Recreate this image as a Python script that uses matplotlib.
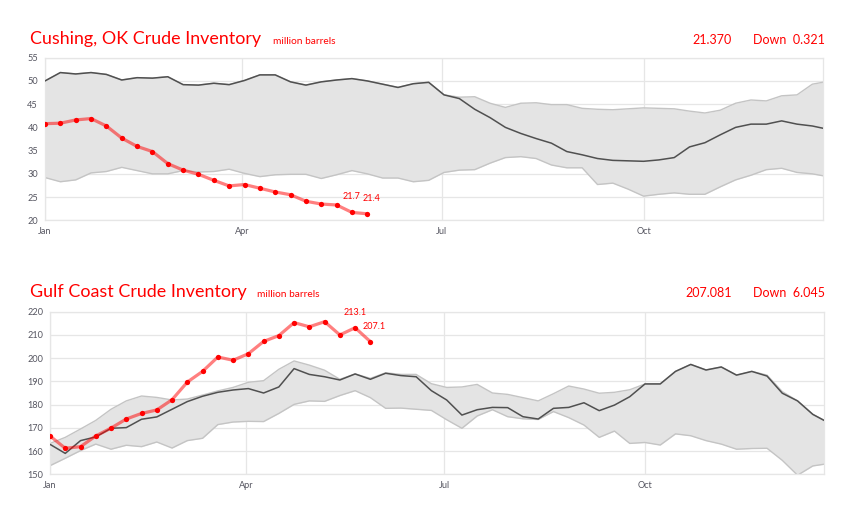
import numpy as np
import matplotlib
matplotlib.use("Agg")
import matplotlib.pyplot as plt

# ---------------- data ----------------
month_ticks = [0, 90, 181, 273]
month_labels = ["Jan", "Apr", "Jul", "Oct"]

cush_red = [40.8, 40.9, 41.6, 41.9, 40.3, 37.7, 35.9, 34.8, 32.2, 30.8, 29.9,
            28.6, 27.4, 27.7, 26.9, 26.1, 25.5, 24.1, 23.5, 23.3, 21.7, 21.4]
cush_dark = [50.0, 51.8, 51.5, 51.8, 51.4, 50.2, 50.7, 50.6, 50.9, 49.2, 49.1,
             49.5, 49.2, 50.1, 51.3, 51.3, 49.8, 49.1, 49.8, 50.2, 50.5, 50.0,
             49.3, 48.6, 49.4, 49.7,
             47.0, 46.2, 43.9, 42.1, 40.0, 38.7, 37.6, 36.6, 34.8, 34.1, 33.3,
             32.9, 32.8, 32.7, 33.0, 33.5, 35.8, 36.7, 38.4, 40.0, 40.7, 40.7,
             41.4, 40.7, 40.3, 39.6]
cush_upper = [50.0, 51.8, 51.5, 51.8, 51.4, 50.2, 50.7, 50.6, 50.9, 49.2, 49.1,
              49.5, 49.2, 50.1, 51.3, 51.3, 49.8, 49.1, 49.8, 50.2, 50.5, 50.0,
              49.3, 48.6, 49.4, 49.7,
              47.0, 46.5, 46.6, 45.2, 44.3, 45.2, 45.3, 44.9, 44.9, 44.1, 43.9,
              43.8, 44.0, 44.2, 44.1, 44.0, 43.5, 43.1, 43.7, 45.2, 45.9, 45.7,
              46.8, 47.0, 49.3, 49.9]
cush_lower = [29.2, 28.3, 28.7, 30.2, 30.5, 31.4, 30.7, 30.0, 30.0, 30.7, 30.4,
              30.5, 31.0, 30.1, 29.4, 29.8, 29.9, 29.9, 29.0, 29.8, 30.7, 30.0,
              29.1, 29.1, 28.3, 28.6,
              30.3, 30.8, 30.9, 32.3, 33.5, 33.7, 33.3, 31.9, 31.3, 31.3, 27.7,
              28.0, 26.7, 25.2, 25.6, 25.9, 25.6, 25.6, 27.2, 28.7, 29.7, 30.9,
              31.2, 30.3, 30.0, 29.4]

gulf_red = [166.5, 161.2, 161.9, 166.5, 169.9, 173.8, 176.2, 177.7, 182.1, 189.7,
            194.3, 200.5, 199.1, 201.9, 207.2, 209.7, 215.3, 213.5, 215.7, 210.0,
            213.1, 207.1]
gulf_dark = [162.9, 159.0, 164.5, 166.1, 169.8, 170.1, 173.7, 174.7, 178.0, 181.3,
             183.6, 185.3, 186.3, 186.9, 185.0, 187.6, 195.5, 193.0, 192.0, 190.6,
             193.2, 190.9, 193.5, 192.5, 192.0, 186.0,
             182.0, 175.5, 177.8, 178.8, 178.7, 174.8, 173.8, 178.4, 178.8, 180.8,
             177.4, 179.8, 183.4, 188.9, 188.9, 194.3, 197.3, 194.9, 196.2, 192.7,
             194.3, 192.3, 184.9, 181.6, 175.8, 172.3]
gulf_upper = [163.3, 165.9, 169.5, 173.2, 178.0, 181.6, 183.7, 183.1, 182.0, 182.4,
              184.1, 185.9, 187.4, 189.6, 190.3, 195.2, 198.8, 197.0, 194.8, 190.9,
              193.2, 191.3, 193.7, 193.0, 193.0, 189.0,
              187.4, 187.6, 188.7, 185.0, 184.4, 183.0, 181.6, 184.7, 188.0, 186.7,
              184.9, 185.3, 186.4, 188.9, 188.9, 194.3, 197.3, 194.9, 196.2, 192.7,
              194.3, 192.7, 185.6, 181.6, 175.8, 172.3]
gulf_lower = [153.7, 156.9, 160.2, 163.0, 160.8, 162.5, 161.9, 163.9, 161.3, 164.5,
              165.5, 171.4, 172.5, 172.8, 172.7, 176.2, 180.1, 181.6, 181.4, 183.9,
              186.0, 183.0, 178.4, 178.5, 178.0, 177.5,
              173.5, 169.8, 175.1, 177.8, 174.8, 173.9, 173.6, 177.0, 174.4, 171.2,
              165.9, 168.6, 163.3, 163.7, 162.6, 167.4, 166.6, 164.5, 163.0, 160.8,
              161.1, 161.2, 156.0, 149.6, 153.6, 154.6]

cush_title = "Cushing, OK Crude Inventory"
gulf_title = "Gulf Coast Crude Inventory"
unit = "million barrels"
cush_last, cush_change = "21.370", "Down  0.321"
gulf_last, gulf_change = "207.081", "Down  6.045"
cush_yticks = [20, 25, 30, 35, 40, 45, 50, 55]
gulf_yticks = [150, 160, 170, 180, 190, 200, 210, 220]

# ---------------- drawing ----------------
W, H = 856, 531
fig = plt.figure(figsize=(W / 100, H / 100), dpi=100)
plt.rcParams['font.family'] = ['Lato', 'DejaVu Sans']

RED = '#ff0000'
TICK = '#555560'
GRID = '#e6e6e6'


def panel(rect, red, dark, upper, lower, yticks, title, last, change, tx_y, unit_x):
    ax = fig.add_axes(rect)
    wk = np.arange(len(dark)) * 7
    rw = np.arange(len(red)) * 7
    ax.fill_between(wk, lower, upper, color='#e4e4e4', lw=0, zorder=1)
    ax.plot(wk, upper, color='#c4c4c4', lw=1.0, zorder=2)
    ax.plot(wk, lower, color='#c4c4c4', lw=1.0, zorder=2)
    ax.plot(wk, dark, color='#505050', lw=1.1, zorder=3)
    ax.plot(rw, red, color=RED, alpha=0.5, lw=2.3, zorder=4,
            solid_capstyle='round', solid_joinstyle='round')
    ax.plot(rw, red, 'o', color=RED, ms=3.8, mec='none', zorder=5)
    for i in (len(red) - 2, len(red) - 1):
        ax.annotate(f"{red[i]:.1f}", (rw[i], red[i]),
                    xytext=(0 if i == len(red) - 2 else 3, 8),
                    textcoords='offset points', ha='center', va='bottom',
                    color=RED, fontsize=6.5)
    ax.set_xlim(0, 355)
    ax.set_ylim(yticks[0], yticks[-1])
    ax.set_yticks(yticks)
    ax.set_xticks(month_ticks)
    ax.set_xticklabels(month_labels)
    ax.grid(True, color=GRID, lw=0.9, zorder=0)
    ax.set_axisbelow(True)
    for s in ax.spines.values():
        s.set_color(GRID)
        s.set_linewidth(0.9)
    ax.tick_params(length=0, labelsize=6.6, colors=TICK, pad=5)
    fig.text(30 / W, 1 - tx_y / H, title, color=RED, fontsize=12.9,
             ha='left', va='baseline')
    fig.text(unit_x / W, 1 - tx_y / H, unit,
             color=RED, fontsize=7.3, ha='left', va='baseline')
    fig.text(732 / W, 1 - tx_y / H, last, color=RED, fontsize=9.0,
             ha='right', va='baseline')
    fig.text(825 / W, 1 - tx_y / H, change, color=RED, fontsize=9.0,
             ha='right', va='baseline')
    return ax


panel([45 / W, 1 - 220.3 / H, (823.3 - 45) / W, (220.3 - 57.7) / H],
      cush_red, cush_dark, cush_upper, cush_lower, cush_yticks,
      cush_title, cush_last, cush_change, 44, 273)
panel([50 / W, 1 - 474.3 / H, (823.7 - 50) / W, (474.3 - 311.7) / H],
      gulf_red, gulf_dark, gulf_upper, gulf_lower, gulf_yticks,
      gulf_title, gulf_last, gulf_change, 297, 257)

fig.savefig("out.png", dpi=100, facecolor='white')
